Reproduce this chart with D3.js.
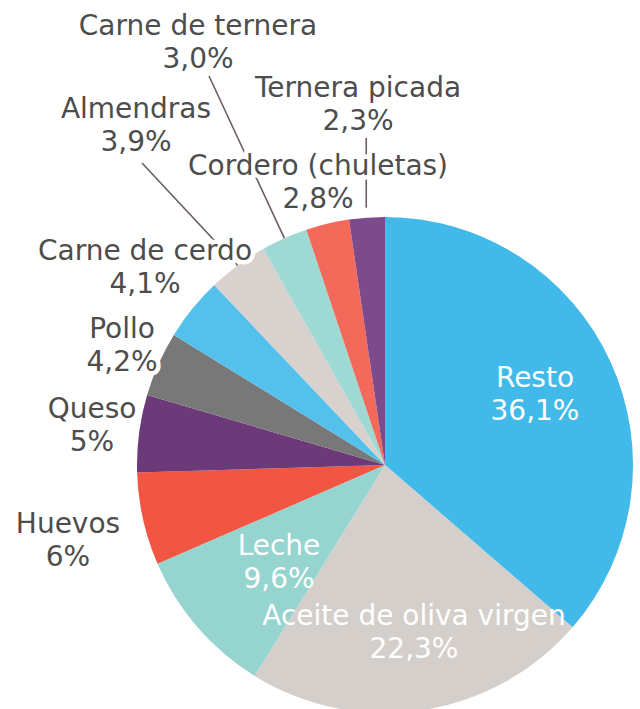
<!DOCTYPE html>
<html>
<head>
<meta charset="utf-8">
<script src="https://cdn.jsdelivr.net/npm/d3@7"></script>
<style>
  body { margin: 0; background: #fff; }
  svg { display: block; font-family: "DejaVu Sans", sans-serif; }
</style>
</head>
<body>
<svg id="pie"></svg>
<script>
const categories = ["Resto", "Aceite de oliva virgen", "Leche", "Huevos", "Queso", "Pollo",
  "Carne de cerdo", "Almendras", "Carne de ternera", "Cordero (chuletas)", "Ternera picada"];
const values = [36.1, 22.3, 9.6, 6, 5, 4.2, 4.1, 3.9, 3.0, 2.8, 2.3];
const valueLabels = ["36,1%", "22,3%", "9,6%", "6%", "5%", "4,2%", "4,1%", "3,9%", "3,0%", "2,8%", "2,3%"];
const colors = ["#41b9e9", "#d5cfcb", "#95d4cf", "#f25643", "#6c3a79", "#787878",
  "#54c1ec", "#d8d1ce", "#9fd9d4", "#f36a5b", "#7d4a8c"];

// label layout: centre x, first baseline y, leader type
const labelPos = [
  { x: 535, y: 387, inside: true },
  { x: 414, y: 625, inside: true },
  { x: 279, y: 555, inside: true },
  { x: 68, y: 533 },
  { x: 92, y: 418 },
  { x: 122, y: 338 },
  { x: 145, y: 260 },
  { x: 136, y: 118, leader: "diag", from: [142, 163] },
  { x: 198, y: 35, leader: "diag", from: [209, 76] },
  { x: 318, y: 175 },
  { x: 358, y: 97, leader: "vert", from: 138 }
];

const width = 640, height = 709;
const cx = 385, cy = 465, radius = 248;
const lineH = 33;

const svg = d3.select("#pie")
  .attr("width", width)
  .attr("height", height);

const data = categories.map((c, i) => ({ name: c, value: values[i], label: valueLabels[i], pos: labelPos[i], color: colors[i] }));

const pie = d3.pie().sort(null).value(d => d.value);
const arcs = pie(data);

const arc = d3.arc().innerRadius(0).outerRadius(radius);
const edgeArc = d3.arc().innerRadius(radius).outerRadius(radius);
const outerArc = d3.arc().innerRadius(radius + 10).outerRadius(radius + 10);

const g = svg.append("g").attr("transform", `translate(${cx},${cy})`);

// leader lines (under everything)
g.append("g")
  .selectAll("line")
  .data(arcs.filter(d => d.data.pos.leader))
  .join("line")
  .attr("stroke", "#6e5d60")
  .attr("stroke-width", 1.6)
  .each(function(d) {
    const p = d.data.pos;
    let x1, y1, x2, y2;
    if (p.leader === "vert") {
      const c = outerArc.centroid(d);
      x1 = c[0]; y1 = p.from - cy; x2 = c[0]; y2 = c[1];
    } else {
      const c = edgeArc.centroid(d);
      x1 = p.from[0] - cx; y1 = p.from[1] - cy; x2 = c[0]; y2 = c[1];
    }
    d3.select(this).attr("x1", x1).attr("y1", y1).attr("x2", x2).attr("y2", y2);
  });

// outside labels with white halo to cut the leaders
const outside = svg.append("g")
  .selectAll("text")
  .data(arcs.filter(d => !d.data.pos.inside))
  .join("text")
  .attr("text-anchor", "middle")
  .attr("font-size", 28)
  .attr("fill", "#4d4d4d")
  .attr("stroke", "#fff")
  .attr("stroke-width", 9)
  .attr("stroke-linejoin", "round")
  .attr("paint-order", "stroke");

outside.append("tspan")
  .attr("x", d => d.data.pos.x)
  .attr("y", d => d.data.pos.y)
  .text(d => d.data.name);
outside.append("tspan")
  .attr("x", d => d.data.pos.x)
  .attr("y", d => d.data.pos.y + lineH)
  .text(d => d.data.label);

// slices
g.append("g")
  .selectAll("path")
  .data(arcs)
  .join("path")
  .attr("d", arc)
  .attr("fill", d => d.data.color);

// inside labels
const inside = svg.append("g")
  .selectAll("text")
  .data(arcs.filter(d => d.data.pos.inside))
  .join("text")
  .attr("text-anchor", "middle")
  .attr("font-size", 28)
  .attr("fill", "#fff");

inside.append("tspan")
  .attr("x", d => d.data.pos.x)
  .attr("y", d => d.data.pos.y)
  .text(d => d.data.name);
inside.append("tspan")
  .attr("x", d => d.data.pos.x)
  .attr("y", d => d.data.pos.y + lineH)
  .text(d => d.data.label);
</script>
</body>
</html>
